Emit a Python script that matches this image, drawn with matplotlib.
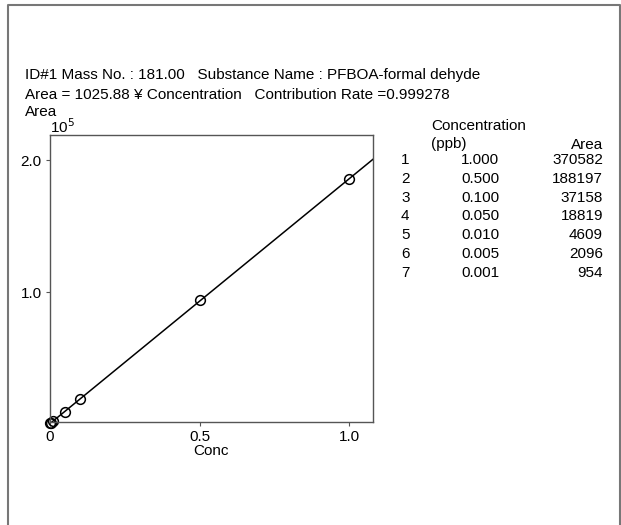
import numpy as np
import matplotlib
matplotlib.use("Agg")
from matplotlib import pyplot as plt

plt.rcParams['font.family'] = ['Liberation Sans', 'DejaVu Sans']

# ============================== Data ==============================
row_ids = [1, 2, 3, 4, 5, 6, 7]
conc = [1.000, 0.500, 0.100, 0.050, 0.010, 0.005, 0.001]
table_area = [370582, 188197, 37158, 18819, 4609, 2096, 954]
# values as drawn on the calibration plot
plot_area = [185291, 94099, 18579, 9410, 2305, 1048, 477]

header1 = "ID#1 Mass No. : 181.00   Substance Name : PFBOA-formal dehyde"
header2 = "Area = 1025.88 \u00a5 Concentration   Contribution Rate =0.999278"

x_ticks = [0, 0.5, 1.0]
x_ticklabels = ["0", "0.5", "1.0"]
y_ticks = [1.0, 2.0]
y_ticklabels = ["1.0", "2.0"]

W, H = 621, 525
fs = 11

fig = plt.figure(figsize=(W / 100, H / 100), dpi=100)

# outer frame (no bottom edge)
frame = fig.add_axes([0, 0, 1, 1])
frame.set_xlim(0, W)
frame.set_ylim(H, 0)
frame.axis("off")
frame.plot([8, 8, 620, 620], [H + 5, 5, 5, H + 5], color="#777777", lw=1.5)

# header text
frame.text(25, 75, header1, fontsize=fs, va="center", ha="left")
frame.text(25, 95, header2, fontsize=fs, va="center", ha="left")
frame.text(25, 112, "Area", fontsize=fs, va="center", ha="left")
frame.text(50, 127, r"10$^5$", fontsize=fs, va="center", ha="left")

# ============================== Plot ==============================
ax = fig.add_axes([50 / W, (H - 422) / H, 323 / W, 287 / H])
y_scaled = np.array(plot_area) / 1e5
x = np.array(conc)
ax.set_xlim(0, 1.08)
ax.set_ylim(0.015, 2.19)

k, b = np.polyfit(x, y_scaled, 1)
xl = np.array(ax.get_xlim())
ax.plot(xl, k * xl + b, color="black", lw=1.1)
ax.plot(x, y_scaled, "o", mfc="none", mec="black", ms=7, mew=1.1, clip_on=False)

ax.set_xticks(x_ticks)
ax.set_xticklabels(x_ticklabels)
ax.set_yticks(y_ticks)
ax.set_yticklabels(y_ticklabels)
ax.tick_params(direction="out", length=3, width=0.8, labelsize=fs, color="#555555", pad=3)
for s in ax.spines.values():
    s.set_color("#555555")
    s.set_linewidth(1.0)
ax.set_xlabel("Conc", fontsize=fs, labelpad=0)

# ============================== Table ==============================
frame.text(431, 126, "Concentration", fontsize=fs, va="center", ha="left")
frame.text(431, 144, "(ppb)", fontsize=fs, va="center", ha="left")
frame.text(603, 145, "Area", fontsize=fs, va="center", ha="right")
row_y0, row_dy = 160, 18.8
for i, (rid, c, a) in enumerate(zip(row_ids, conc, table_area)):
    yy = row_y0 + i * row_dy
    frame.text(401, yy, str(rid), fontsize=fs, va="center", ha="left")
    frame.text(499, yy, f"{c:.3f}", fontsize=fs, va="center", ha="right")
    frame.text(603, yy, str(a), fontsize=fs, va="center", ha="right")

fig.savefig("out.png", dpi=100)
